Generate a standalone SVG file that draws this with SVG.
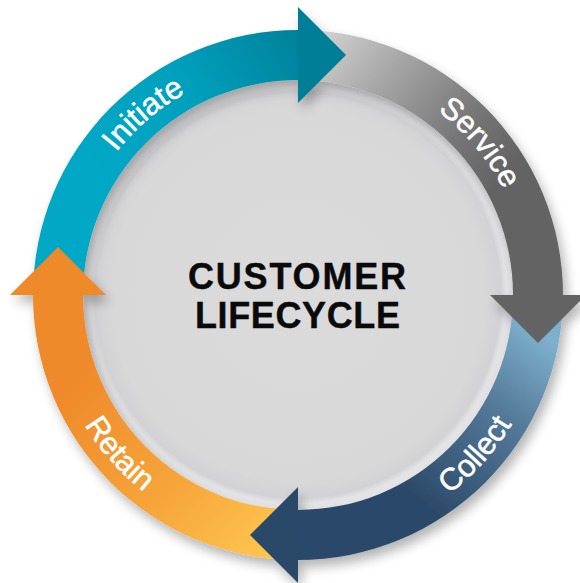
<svg xmlns="http://www.w3.org/2000/svg" width="580" height="583" viewBox="0 0 580 583">
  <defs>
    <style>
      .lbl { font-family: "Liberation Sans", Arial, sans-serif; font-size: 31px; fill: #ffffff; stroke: #ffffff; stroke-width: 0.5px; }
      .title { font-family: "Liberation Sans", Arial, sans-serif; font-size: 36px; font-weight: bold; fill: #0a0a0a; text-anchor: middle; stroke: #0a0a0a; stroke-width: 0.4px; }
    </style>
    <radialGradient id="diskGrad" cx="298" cy="295" r="217" gradientUnits="userSpaceOnUse">
      <stop offset="0" stop-color="#dbdbdc"/>
      <stop offset="0.86" stop-color="#d8d8d9"/>
      <stop offset="0.935" stop-color="#d2d2d4"/>
      <stop offset="0.96" stop-color="#e3e3e5"/>
      <stop offset="1" stop-color="#e7e7e9"/>
    </radialGradient>
    <linearGradient id="tealGrad" x1="110" y1="200" x2="345" y2="60" gradientUnits="userSpaceOnUse">
      <stop offset="0" stop-color="#00a8c6"/>
      <stop offset="0.45" stop-color="#03a0bd"/>
      <stop offset="1" stop-color="#007b94"/>
    </linearGradient>
    <linearGradient id="grayGrad" x1="310" y1="40" x2="490" y2="190" gradientUnits="userSpaceOnUse">
      <stop offset="0" stop-color="#d4d4d4"/>
      <stop offset="0.35" stop-color="#a6a6a6"/>
      <stop offset="0.75" stop-color="#757575"/>
      <stop offset="1" stop-color="#646464"/>
    </linearGradient>
    <linearGradient id="blueGrad" x1="548" y1="340" x2="420" y2="500" gradientUnits="userSpaceOnUse">
      <stop offset="0" stop-color="#7db0cd"/>
      <stop offset="0.4" stop-color="#557b9a"/>
      <stop offset="1" stop-color="#2c4a6a"/>
    </linearGradient>
    <linearGradient id="orangeGrad" x1="275" y1="548" x2="85" y2="370" gradientUnits="userSpaceOnUse">
      <stop offset="0" stop-color="#fec54e"/>
      <stop offset="0.45" stop-color="#f6a53a"/>
      <stop offset="1" stop-color="#ef8a2a"/>
    </linearGradient>
    <filter id="shadow" x="-20%" y="-20%" width="140%" height="140%">
      <feGaussianBlur in="SourceAlpha" stdDeviation="6"/>
      <feOffset dx="4" dy="7" result="b"/>
      <feComponentTransfer in="b" result="s">
        <feFuncA type="linear" slope="0.3"/>
      </feComponentTransfer>
      <feMerge>
        <feMergeNode in="s"/>
        <feMergeNode in="SourceGraphic"/>
      </feMerge>
    </filter>
    <path id="pInitiate" d="M70.17,256.87 A231,231 0 0 1 295.98,64.01"/>
    <path id="pService" d="M338.11,67.51 A231,231 0 0 1 529,295"/>
    <path id="pCollect" d="M332.79,542.57 A250,250 0 0 0 547.85,303.72"/>
    <path id="pRetain" d="M48.1,301.98 A250,250 0 0 0 261.48,542.32"/>
  </defs>

  <g id="disk">
    <circle cx="298" cy="295" r="217" fill="url(#diskGrad)"/>
  </g>

  <g id="cycle" filter="url(#shadow)">
    <g id="initiate">
      <path d="M33,295 A265,265 0 0 1 298,30 L298,80 A215,215 0 0 0 83,295 Z" fill="url(#tealGrad)"/>
    </g>
    <g id="service">
      <path d="M298,30 A265,265 0 0 1 563,295 L513,295 A215,215 0 0 0 298,80 Z" fill="url(#grayGrad)"/>
    </g>
    <g id="collect">
      <path d="M563,295 A265,265 0 0 1 298,560 L298,510 A215,215 0 0 0 513,295 Z" fill="url(#blueGrad)"/>
    </g>
    <g id="retain">
      <path d="M298,560 A265,265 0 0 1 33,295 L83,295 A215,215 0 0 0 298,510 Z" fill="url(#orangeGrad)"/>
    </g>
    <g id="arrowheads">
      <polygon points="298,7 346,55 298,103" fill="#017d97"/>
      <polygon points="490,295 586,295 538,343" fill="#636363"/>
      <polygon points="298,487 298,583 250,535" fill="#2a4968"/>
      <polygon points="10,295 106,295 58,247" fill="#ef8a2a"/>
    </g>
  </g>

  <g id="labels">
    <text class="lbl"><textPath href="#pInitiate" startOffset="50%" text-anchor="middle">Initiate</textPath></text>
    <text class="lbl"><textPath href="#pService" startOffset="50%" text-anchor="middle">Service</textPath></text>
    <text class="lbl"><textPath href="#pCollect" startOffset="50%" text-anchor="middle">Collect</textPath></text>
    <text class="lbl"><textPath href="#pRetain" startOffset="50%" text-anchor="middle">Retain</textPath></text>
  </g>

  <g id="center-title">
    <text class="title" x="297" y="288.5" textLength="218" lengthAdjust="spacing">CUSTOMER</text>
    <text class="title" x="297.5" y="327.5" textLength="205" lengthAdjust="spacing">LIFECYCLE</text>
  </g>
</svg>
